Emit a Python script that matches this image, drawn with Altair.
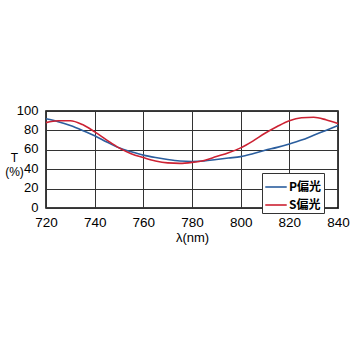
import altair as alt
import pandas as pd

wl = [720, 725, 730, 735, 740, 745, 750, 755, 760, 765, 770, 775, 780,
      785, 790, 795, 800, 805, 810, 815, 820, 825, 830, 835, 840]
p_vals = [92, 89, 85, 80, 74.5, 68, 62, 58, 54.5, 52, 50, 48.5, 48,
          48.5, 50, 51.5, 53, 56, 59.5, 62.5, 66, 70, 75, 80, 85]
s_vals = [88, 90, 90, 86, 78.5, 70, 62, 56, 52, 48.5, 46.5, 46, 47,
          49, 53, 57, 62, 69, 77, 84, 90, 93, 93.5, 91, 87]
series = ["P偏光", "S偏光"]
colors = ["#2b5e9e", "#cc2233"]

rows = []
for w, v in zip(wl, p_vals):
    rows.append({"wl": w, "T": v, "s": series[0]})
for w, v in zip(wl, s_vals):
    rows.append({"wl": w, "T": v, "s": series[1]})
df = pd.DataFrame(rows)

font = "Liberation Sans"

chart = alt.Chart(df).mark_line(interpolate="monotone", strokeWidth=1.6).encode(
    x=alt.X("wl:Q", scale=alt.Scale(domain=[720, 840], nice=False),
            axis=alt.Axis(values=list(range(720, 841, 20)), title="λ(nm)",
                          labelFontSize=13.5, labelPadding=7, tickSize=0,
                          labelFlush=False, labelOverlap=False,
                          titleFontSize=13, titleFontWeight="normal",
                          titleBaseline="middle", titleY=29, titleX=146,
                          domain=False, gridColor="#333", gridOpacity=1, gridWidth=1)),
    y=alt.Y("T:Q", scale=alt.Scale(domain=[0, 100], nice=False),
            axis=alt.Axis(values=list(range(0, 101, 20)), title=["T", "(%)"],
                          labelFontSize=13, labelPadding=8, tickSize=0,
                          labelFlush=False, labelOffset=-1,
                          titleFontSize=12, titleFontWeight="normal", titleAngle=0,
                          titleAlign="center", titleBaseline="middle",
                          titleX=-32, titleY=46, titleLineHeight=14,
                          domain=False, gridColor="#333", gridOpacity=1, gridWidth=1)),
    color=alt.Color("s:N", scale=alt.Scale(domain=series, range=colors),
                    legend=alt.Legend(title=None, orient="none", legendX=216, legendY=62,
                                      fillColor="white", strokeColor="#333",
                                      padding=2, symbolType="stroke", symbolSize=460,
                                      symbolStrokeWidth=1.6, labelFontSize=12,
                                      labelFont="Noto Sans CJK JP", labelFontWeight="bold",
                                      rowPadding=0, labelOffset=1, labelLimit=60)),
).properties(
    width=292, height=97,
    autosize=alt.AutoSizeParams(type="none"),
    padding={"left": 46, "top": 111, "right": 12, "bottom": 142},
).configure_view(
    stroke="black", strokeWidth=1.5
).configure_axis(
    labelFont=font, titleFont=font, labelColor="black", titleColor="black"
)

chart.save("out.html", embed_options={"renderer": "svg", "actions": False})
